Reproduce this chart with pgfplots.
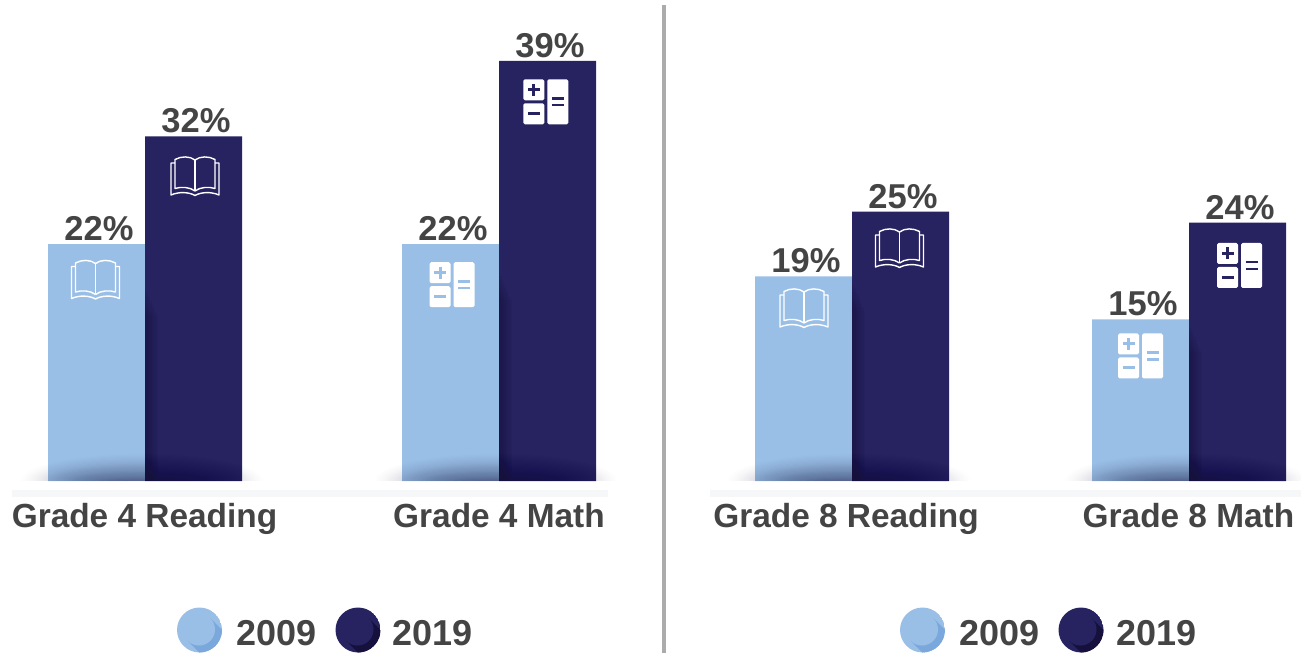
\documentclass[border=0pt]{standalone}
\usepackage{fontspec}
\setmainfont{Liberation Sans}
\usepackage{pgfplots}
\usepackage{pgfplotstable}
\pgfplotsset{compat=1.18}
\definecolor{lightbar}{HTML}{9ABFE6}
\definecolor{darkbar}{HTML}{272361}
\definecolor{lightshad}{HTML}{7AA8DC}
\definecolor{darkshad}{HTML}{15113C}
\definecolor{txt}{HTML}{444444}
\definecolor{ground}{HTML}{F5F7F8}
\definecolor{sep}{HTML}{ABABAB}
\pgfplotstableread{
x v
96.5 22
450.5 22
803.5 19
1140.5 15
}\dataA
\pgfplotstableread{
x v
193.5 32
547.5 39
900.5 25
1237.5 24
}\dataB
% px coordinates below: x right, y down from the top of the picture
\newcommand{\floorshadow}[1]{%
  \begin{scope}
    \clip (#1-135,450) rectangle (#1+135,481);
    \foreach \k in {1,...,24}{
      \pgfmathsetmacro{\op}{.005+.0017*(24-\k)}
      \pgfmathsetmacro{\rx}{122*sqrt(\k/24)}
      \fill[darkshad,opacity=\op] (#1-3,481) ellipse[x radius=\rx,y radius={\k*1.15}];
    }
  \end{scope}}
\newcommand{\edgeshadow}[2]{%
  \foreach \k in {1,...,10}{
    \fill[darkshad,opacity=.07] (#1,#2+\k*3) rectangle (#1+\k*1.3,481);
  }}
\newcommand{\bookicon}[2]{%
  \begin{scope}[shift={(#1,#2)},draw=white,line width=1.4pt,line join=round]
    \draw (0,-16) -- (0,15);
    \draw (0,-16) .. controls (-5,-20) and (-14,-20) .. (-20,-16.5) -- (-20,12.5) .. controls (-14,10.5) and (-5,11) .. (0,15);
    \draw (0,-16) .. controls (5,-20) and (14,-20) .. (20,-16.5) -- (20,12.5) .. controls (14,10.5) and (5,11) .. (0,15);
    \draw (-20,-13) -- (-24,-13) -- (-24,19) .. controls (-16,15.5) and (-6,16) .. (0,19.5) .. controls (6,16) and (16,15.5) .. (24,19) -- (24,-13) -- (20,-13);
  \end{scope}}
\newcommand{\calcicon}[3]{%
  \begin{scope}[shift={(#1,#2)}]
    \fill[white,rounded corners=1.6pt] (-22.5,-22.5) rectangle (-1.5,-1.5);
    \fill[white,rounded corners=1.6pt] (-22.5,1.5) rectangle (-1.5,22.5);
    \fill[white,rounded corners=1.6pt] (1.5,-22.5) rectangle (22.5,22.5);
    \draw[#3,line width=3pt] (-18,-12) -- (-6,-12) (-12,-18) -- (-12,-6);
    \draw[#3,line width=3pt] (-18,12) -- (-6,12);
    \draw[#3,line width=2.6pt] (6,-3.4) -- (18,-3.4) (6,3.4) -- (18,3.4);
  \end{scope}}
\newcommand{\legenddot}[3]{%
  \begin{scope}
    \clip (#1,630) circle[radius=22.5];
    \fill[#2] (#1,630) circle[radius=22.5];
    \begin{scope}[shift={(#1-0.5,630-0.5)},rotate=-45]
      \fill[#3] (0,-16) rectangle (40,16);
    \end{scope}
    \fill[#2] (#1-0.5,630-0.5) circle[radius=16];
  \end{scope}}
\begin{document}
\begin{tikzpicture}
\useasboundingbox (0pt,-172pt) rectangle (1301pt,481pt);
\fill[ground] (12pt,-16pt) rectangle (608pt,-9pt);
\fill[ground] (710pt,-16pt) rectangle (1301pt,-9pt);
\begin{axis}[
  at={(0pt,0pt)},anchor=south west,
  scale only axis,width=1301pt,height=481pt,
  xmin=0,xmax=1301,ymin=0,ymax=44.66,
  axis line style={draw=none},
  ytick=\empty,
  xtick={144.5,499,846,1188.5},
  xticklabels={Grade 4 Reading,Grade 4 Math,Grade 8 Reading,Grade 8 Math},
  major tick length=0pt,
  xticklabel style={anchor=base,yshift=-46pt,font=\fontsize{33.4}{36}\selectfont\bfseries,text=txt},
  clip=false,
  ybar,bar width=97pt,
  /pgf/number format/assume math mode=true,
  nodes near coords={\pgfmathprintnumber{\pgfplotspointmeta}\%},
  every node near coord/.append style={anchor=base,yshift=3.5pt,xshift=2.5pt,font=\fontsize{34.5}{36}\selectfont\bfseries,text=txt},
]
\addplot[bar shift=0pt,draw=none,fill=lightbar] table[x=x,y=v] {\dataA};
\addplot[bar shift=0pt,draw=none,fill=darkbar] table[x=x,y=v] {\dataB};
\end{axis}
\begin{scope}[x=1pt,y=-1pt,shift={(0pt,481pt)}]
  \fill[sep] (662.3,5) rectangle (665.8,653);
  \edgeshadow{145}{285}
  \edgeshadow{499}{270}
  \edgeshadow{852}{280}
  \edgeshadow{1189}{322}
  \floorshadow{145}
  \floorshadow{499}
  \floorshadow{852}
  \floorshadow{1189}
  \bookicon{95.5}{279.5}
  \bookicon{195}{176}
  \bookicon{804}{308}
  \bookicon{899.5}{248}
  \calcicon{452}{284.7}{lightbar}
  \calcicon{545.8}{101.8}{darkbar}
  \calcicon{1140.5}{356}{lightbar}
  \calcicon{1239.5}{265.5}{darkbar}
  \legenddot{199.5}{lightbar}{lightshad}
  \legenddot{358}{darkbar}{darkshad}
  \legenddot{922.5}{lightbar}{lightshad}
  \legenddot{1081}{darkbar}{darkshad}
  \tikzset{every node/.style={anchor=base west,inner sep=0pt,text=txt,font=\fontsize{36}{38}\selectfont\bfseries}}
  \node at (236,645) {2009};
  \node at (392.5,645) {2019};
  \node at (959.5,645) {2009};
  \node at (1116,645) {2019};
\end{scope}
\end{tikzpicture}
\end{document}
